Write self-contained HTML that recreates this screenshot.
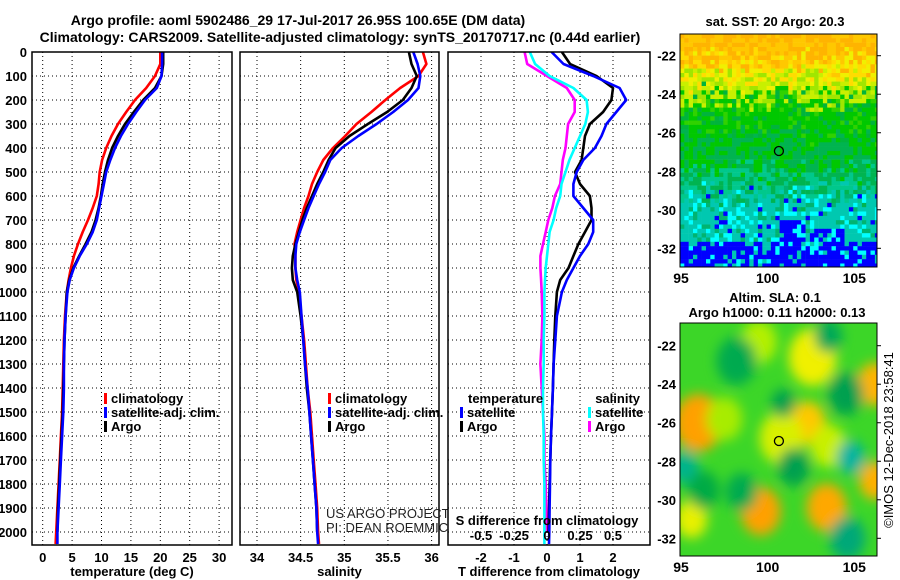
<!DOCTYPE html>
<html><head><meta charset="utf-8">
<style>
html,body{margin:0;padding:0;background:#fff;}
svg{display:block;font-family:"Liberation Sans",Arial,sans-serif;}
.b{font-weight:bold;font-size:13px;}
.n{font-weight:normal;font-size:13px;}
</style></head>
<body>
<svg id="fig" width="900" height="580" viewBox="0 0 900 580">
<defs>
<filter id="blur" x="-30%" y="-30%" width="160%" height="160%"><feGaussianBlur stdDeviation="6"/></filter>
<clipPath id="clipM1"><rect x="680" y="34" width="197" height="233"/></clipPath>
<clipPath id="clipM2"><rect x="680" y="323" width="197" height="233"/></clipPath>
<clipPath id="clipP1"><rect x="32" y="52" width="200" height="493"/></clipPath>
<clipPath id="clipP2"><rect x="240" y="52" width="199" height="493"/></clipPath>
<clipPath id="clipP3"><rect x="448" y="52" width="202" height="493"/></clipPath>
</defs>
<text class="b" x="298" y="25" text-anchor="middle" style="font-size:14px">Argo profile: aoml 5902486_29 17-Jul-2017 26.95S 100.65E (DM data)</text>
<text class="b" x="340" y="42" text-anchor="middle" style="font-size:14px">Climatology: CARS2009. Satellite-adjusted climatology: synTS_20170717.nc (0.44d earlier)</text>
<g id="content"></g>
</svg>
<script>
// ---- data ----
const depths = [0,50,100,150,200,250,300,350,400,450,500,550,600,650,700,750,800,850,900,950,1000,1100,1200,1300,1400,1500,1600,1700,1800,1900,2000,2050];
const tempClim = [20.0,20.0,19.1,17.6,15.7,14.2,12.8,11.7,10.8,10.1,9.7,9.5,9.2,8.5,7.7,6.8,6.0,5.3,4.8,4.4,4.1,3.8,3.6,3.5,3.4,3.3,3.1,2.9,2.7,2.5,2.3,2.2];
const tempSat = [20.3,20.3,20.2,19.4,17.4,15.9,14.5,13.3,12.3,11.5,10.8,10.4,10.0,9.6,9.2,8.5,7.5,6.3,5.3,4.6,4.2,3.9,3.7,3.6,3.6,3.5,3.3,3.1,2.9,2.7,2.5,2.5];
const tempArgo = [20.5,20.5,20.2,19.1,17.1,15.5,14.0,12.8,11.8,11.1,10.6,10.2,9.9,9.5,9.0,8.3,7.3,6.2,5.2,4.5,4.1,3.9,3.7,3.6,3.5,3.4,3.2,3.0,2.8,2.6,2.5,null];
const salClim = [35.90,35.94,35.85,35.64,35.47,35.31,35.14,35.01,34.87,34.76,34.69,34.63,34.59,34.54,34.50,34.46,34.43,34.44,34.44,34.45,34.48,34.51,34.54,34.56,34.58,34.61,34.63,34.65,34.67,34.69,34.70,34.71];
const salSat = [35.79,35.84,35.87,35.85,35.73,35.56,35.37,35.16,34.97,34.84,34.78,34.71,34.65,34.59,34.54,34.49,34.45,34.44,34.44,34.46,34.49,34.51,34.53,34.55,34.58,34.60,34.62,34.64,34.66,34.68,34.69,34.70];
const salArgo = [35.74,35.77,35.83,35.77,35.67,35.49,35.27,35.06,34.90,34.82,34.76,34.69,34.63,34.57,34.52,34.48,34.44,34.41,34.40,34.41,34.46,34.50,34.53,34.55,34.57,34.60,34.62,34.64,34.66,34.68,34.69,null];
const dTsat = [0.14,0.5,1.4,2.2,2.4,2.1,1.8,1.65,1.45,1.1,0.9,0.8,0.8,1.1,1.4,1.4,1.25,1.0,0.8,0.6,0.45,0.3,0.25,0.2,0.18,0.15,0.12,0.1,0.09,0.08,0.07,0.06];
const dTargo = [0.45,0.7,1.5,2.0,1.95,1.7,1.3,1.15,1.1,1.05,0.85,1.0,1.3,1.35,1.35,1.15,0.95,0.8,0.65,0.4,0.3,0.25,0.22,0.2,0.18,0.15,0.12,0.1,0.08,0.06,0.05,null];
const dSsat = [-0.13,-0.09,0.02,0.2,0.3,0.31,0.29,0.25,0.21,0.17,0.14,0.11,0.10,0.07,0.05,0.02,0.01,0.0,-0.01,-0.015,-0.02,-0.02,-0.025,-0.025,-0.03,-0.03,-0.025,-0.025,-0.02,-0.02,-0.02,-0.02];
const dSargo = [-0.17,-0.15,0.0,0.15,0.21,0.21,0.16,0.15,0.14,0.12,0.11,0.1,0.06,0.04,0.01,-0.01,-0.03,-0.05,-0.05,-0.045,-0.04,-0.035,-0.04,-0.05,-0.04,-0.03,-0.02,-0.02,-0.01,-0.005,0.0,null];
const depthTicks = [0,100,200,300,400,500,600,700,800,900,1000,1100,1200,1300,1400,1500,1600,1700,1800,1900,2000];
const tempTicks = [0,5,10,15,20,25,30];
const salTicks = [34,34.5,35,35.5,36];
const dTTicks = [-2,-1,0,1,2];
const dSTicks = [-0.5,-0.25,0,0.25,0.5];
const latTicks = [-22,-24,-26,-28,-30,-32];
const lonTicks = [95,100,105];
const argoLon = 100.65, argoLat = -26.95;

// ---- scales ----
const yD = d => 52 + d*0.24;
const xT = t => 42.7 + t*5.88;
const xS = s => 257 + (s-34)*87.3;
const xDT = v => 547 + v*33;
const xDS = v => 547 + v*132;
const NS='http://www.w3.org/2000/svg';
const root=document.getElementById('content');
function el(tag,attrs,parent){const e=document.createElementNS(NS,tag);for(const k in attrs)e.setAttribute(k,attrs[k]);(parent||root).appendChild(e);return e;}
function txt(x,y,s,anchor,cls,parent){const t=el('text',{x:x,y:y,'text-anchor':anchor||'start','class':cls||'b'},parent);t.textContent=s;return t;}

function panel(x0,x1,ticks,xf,tickFmt,xlabel,pname){
  const g=el('g',{});
  
  
  el('rect',{x:x0,y:52,width:x1-x0,height:493,fill:'#fff',stroke:'none'},g);
  depthTicks.forEach(d=>{ if(d>0) el('line',{x1:x0,x2:x1,y1:yD(d),y2:yD(d),stroke:'#000','stroke-width':1,'stroke-dasharray':'1,3'},g);});
  ticks.forEach(t=>{ el('line',{x1:xf(t),x2:xf(t),y1:52,y2:545,stroke:'#000','stroke-width':1,'stroke-dasharray':'1,3'},g);});
  if(tickFmt){ticks.forEach(t=>{const l=txt(xf(t),562,tickFmt(t),'middle','b',g);
    
    });}
  const xl=txt((x0+x1)/2,576,xlabel,'middle','b',g);
  
  
  return g;
}
function line(vals,xf,color,clip,name){
  let pts=[];depths.forEach((d,i)=>{if(vals[i]!==null)pts.push(xf(vals[i]).toFixed(1)+','+yD(d).toFixed(1));});
  const p=el('polyline',{points:pts.join(' '),fill:'none',stroke:color,'stroke-width':2.6,'clip-path':'url(#'+clip+')','stroke-linejoin':'round'});
  
  
}
function border(x0,x1){el('rect',{x:x0,y:52,width:x1-x0,height:493,fill:'none',stroke:'#000','stroke-width':1.5});}
function legendItem(x,y,color,label,name){
  el('rect',{x:x,y:y-10,width:3,height:11,fill:color});
  const t=txt(x+7,y,label);
  
  
}

// panel 1
panel(32,232,tempTicks,xT,t=>String(t),'temperature (deg C)','temperature-panel');
depthTicks.forEach(d=>{const t=txt(27,yD(d)+5,String(d),'end');
  
  });
line(tempClim,xT,'#ff0000','clipP1','temp-climatology-line');
line(tempArgo,xT,'#000000','clipP1','temp-argo-line');
line(tempSat,xT,'#0000ff','clipP1','temp-satellite-line');
legendItem(104,403,'#ff0000','climatology','legend-climatology');
legendItem(104,417,'#0000ff','satellite-adj. clim.','legend-satellite');
legendItem(104,431,'#000000','Argo','legend-argo');
border(32,232);

// panel 2
panel(240,439,salTicks,xS,t=>String(t),'salinity','salinity-panel');
line(salClim,xS,'#ff0000','clipP2','sal-climatology-line');
line(salArgo,xS,'#000000','clipP2','sal-argo-line');
line(salSat,xS,'#0000ff','clipP2','sal-satellite-line');
legendItem(328,403,'#ff0000','climatology','legend-climatology');
legendItem(328,417,'#0000ff','satellite-adj. clim.','legend-satellite');
legendItem(328,431,'#000000','Argo','legend-argo');
border(240,439);
let c1=txt(326,518,'US ARGO PROJECT','start','n');c1.setAttribute('style','fill:#222');


let c2=txt(326,532,'PI: DEAN ROEMMICH','start','n');c2.setAttribute('style','fill:#222');



// panel 3
panel(448,650,dTTicks,xDT,t=>String(t),'T difference from climatology','difference-panel');
line(dSargo,xDS,'#ff00ff','clipP3','sal-diff-argo-line');
line(dSsat,xDS,'#00ffff','clipP3','sal-diff-satellite-line');
line(dTargo,xDT,'#000000','clipP3','temp-diff-argo-line');
line(dTsat,xDT,'#0000ff','clipP3','temp-diff-satellite-line');
let lt=txt(468,403,'temperature');
legendItem(460,417,'#0000ff','satellite','legend-temp-satellite');
legendItem(460,431,'#000000','Argo','legend-temp-argo');
let ls=txt(640,403,'salinity','end');
legendItem(588,417,'#00ffff','satellite','legend-sal-satellite');
legendItem(588,431,'#ff00ff','Argo','legend-sal-argo');
let sl=txt(547,525,'S difference from climatology','middle');
dSTicks.forEach(v=>{const t=txt(xDS(v),540,String(v),'middle');
  
  });
border(448,650);

// ---- maps ----
const xLon = lon => 681 + (lon-95)*17.33;
function mapAxes(top,y22){
  const yLat = lat => y22 + (-22-lat)*19.26;
  latTicks.forEach(l=>{const t=txt(676,yLat(l)+5,String(l),'end');
    
    
    el('line',{x1:877,x2:881,y1:yLat(l),y2:yLat(l),stroke:'#000'});});
  lonTicks.forEach(l=>{const t=txt(xLon(l),top+233+16,String(l),'middle');t.setAttribute('style','font-size:14px');
    
    });
  el('rect',{x:680,y:top,width:197,height:233,fill:'none',stroke:'#000','stroke-width':1});
  const c=el('circle',{cx:xLon(argoLon),cy:yLat(argoLat),r:4.5,fill:'none',stroke:'#000','stroke-width':1.3});
  
  
}
// map 1 SST texture
const m1=el('g',{'clip-path':'url(#clipM1)'});


let seed=12345;function rnd(){seed=(seed*1103515245+12345)%2147483648;return seed/2147483648;}
const cs=4.33;
for(let r=0;r<54;r++){for(let c=0;c<46;c++){
  const lat=-20.87-(r+0.5)*(cs/19.26);
  const lon=95+(c+0.5)*cs/17.33;
  let v=lat + (rnd()-0.5)*1.6;
  let col;
  if(v>-22.3)col=rnd()<0.5?'#ffb400':'#ffc800';
  else if(v>-23.3)col=rnd()<0.5?'#ffdc00':'#f0f000';
  else if(v>-24.2)col=rnd()<0.5?'#c8f000':'#a0e600';
  else if(v>-26)col=rnd()<0.6?'#00c800':(rnd()<0.5?'#30d200':'#00b43c');
  else if(v>-28)col=rnd()<0.5?'#00c800':'#00b450';
  else if(v>-29.2)col=rnd()<0.5?'#00b450':'#00c88c';
  else {
    let blueZone = (lat<-31.6) || (lat<-30.6 && lon>100.7 && lon<102.3) || (lat<-31 && lon>102.5 && lon<104.5);
    if(blueZone) col=rnd()<0.7?'#0000ff':(rnd()<0.5?'#00c8b4':'#00ffff');
    else { const q=rnd(); col=q<0.6?'#00c8b0':(q<0.8?'#00ffff':(q<0.93?'#00b470':'#0000ff')); }
  }
  el('rect',{x:(680+c*cs).toFixed(1),y:(34+r*cs).toFixed(1),width:cs+0.3,height:cs+0.3,fill:col},m1);
}}
mapAxes(34,55.7);
let t1=txt(775,26,'sat. SST: 20 Argo: 20.3','middle');

// map 2 SLA blobs
const blobLon=[96,102.6,106.2,102.3,99.6,103.4,106.2,95.6,100.8,99.5,97.5,103.5,95.2,104.8,104.6,101.5,98.2,98.5,100.9,104.5,96.3,103.5];
const blobLat=[-26,-22.6,-24,-26,-30.6,-30.4,-29,-31,-26.8,-21.8,-25.8,-27.2,-28.3,-27.8,-32,-28.3,-22.8,-29.6,-25,-24.5,-29.5,-21.5];
const blobCol=['#ffa000','#f0f000','#ffb400','#ffc800','#ffa000','#ffa800','#ffb000','#e8f000','#d8f000','#b4f000','#a8ec00','#c8f000','#00b48c','#00b4a0','#00a878','#00a050','#00aa50','#00aa50','#00a050','#00a050','#00aa44','#00a858'];
const blobR=[24,24,18,18,20,20,16,16,22,18,18,18,14,14,18,16,20,16,12,18,16,14];
const m2=el('g',{'clip-path':'url(#clipM2)'});


el('rect',{x:680,y:323,width:197,height:233,fill:'#3cd628'},m2);
const bg=el('g',{filter:'url(#blur)'},m2);
const yLat2 = lat => 345.7 + (-22-lat)*19.26;
blobLon.forEach((lo,i)=>{
  el('ellipse',{cx:xLon(lo),cy:yLat2(blobLat[i]),rx:blobR[i],ry:blobR[i]*1.2,fill:blobCol[i]},bg);
});
mapAxes(323,345.7);
let t2=txt(775,302,'Altim. SLA: 0.1','middle');
let t3=txt(777,317,'Argo h1000: 0.11 h2000: 0.13','middle');
let cr=txt(0,0,'©IMOS 12-Dec-2018 23:58:41','middle','n');
cr.setAttribute('transform','translate(893,440) rotate(-90)');


</script>
</body></html>
